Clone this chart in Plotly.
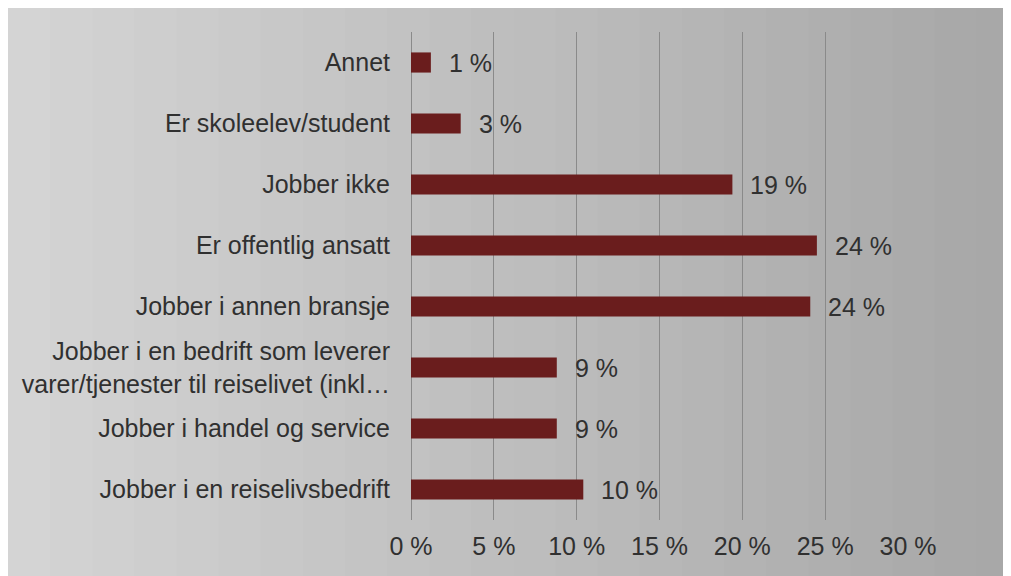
import plotly.graph_objects as go

categories = [
    "Annet",
    "Er skoleelev/student",
    "Jobber ikke",
    "Er offentlig ansatt",
    "Jobber i annen bransje",
    "Jobber i en bedrift som leverer<br>varer/tjenester til reiselivet (inkl…",
    "Jobber i handel og service",
    "Jobber i en reiselivsbedrift",
]
values = [1.2, 3.0, 19.4, 24.5, 24.1, 8.8, 8.8, 10.4]
value_labels = ["1 %", "3 %", "19 %", "24 %", "24 %", "9 %", "9 %", "10 %"]
tick_vals = [0, 5, 10, 15, 20, 25, 30]
tick_text = ["0 %", "5 %", "10 %", "15 %", "20 %", "25 %", "30 %"]

# page body has an 8px margin, so the figure starts at (8, 8)
W, H = 1011, 576
L, R, T, B = 403, 111, 24, 64
PW, PH = W - L - R, H - T - B

def px(x):
    return (x - L) / PW

def py(y):
    return (H - B - y) / PH

FONT = "Liberation Sans, Arial, sans-serif"
TXT = "#303030"
BAR = "#6a1d1d"

fig = go.Figure()
fig.add_trace(go.Bar(
    x=values, y=categories, orientation="h",
    marker=dict(color=BAR, line=dict(width=0)),
    width=0.33, hoverinfo="skip",
))

shapes = []
# photo-like background gradient
n = 24
c0, c1 = (212, 212, 212), (168, 168, 168)
for i in range(n):
    a = W * i / n
    b = W * (i + 1) / n + 1
    t = i / (n - 1)
    col = tuple(int(c0[k] + (c1[k] - c0[k]) * t) for k in range(3))
    shapes.append(dict(type="rect", xref="paper", yref="paper",
                       x0=px(a), x1=px(b), y0=py(H), y1=py(0),
                       fillcolor="rgb(%d,%d,%d)" % col, line=dict(width=0),
                       layer="below"))

annotations = []
for c, v, lab in zip(categories, values, value_labels):
    annotations.append(dict(x=v, y=c, xref="x", yref="y", text=lab,
                            showarrow=False, xanchor="left", xshift=16,
                            font=dict(family=FONT, size=25, color=TXT)))

fig.update_layout(
    width=W, height=H,
    margin=dict(l=L, r=R, t=T, b=B, pad=0),
    paper_bgcolor="#c8c8c8",
    plot_bgcolor="rgba(0,0,0,0)",
    showlegend=False,
    shapes=shapes,
    annotations=annotations,
    font=dict(family=FONT, size=25, color=TXT),
    xaxis=dict(range=[0, 30], tickvals=tick_vals, ticktext=tick_text,
               showgrid=True, gridcolor="#8a8a8a", gridwidth=1,
               zeroline=True, zerolinecolor="#8a8a8a", zerolinewidth=1,
               showline=False, ticks="", ticklabelstandoff=9,
               tickfont=dict(family=FONT, size=25, color=TXT)),
    yaxis=dict(categoryorder="array", categoryarray=categories,
               autorange="reversed", showgrid=False, zeroline=False,
               showline=False, ticks="", ticklabelstandoff=20,
               tickfont=dict(family=FONT, size=25, color=TXT)),
    bargap=0.67,
)

fig.write_html("out.html")
